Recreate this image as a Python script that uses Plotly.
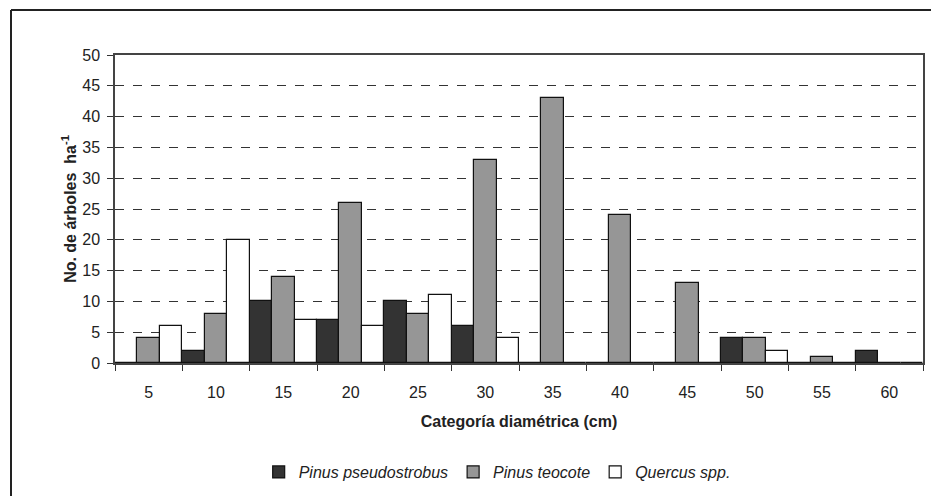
import plotly.graph_objects as go

categories = ["5", "10", "15", "20", "25", "30", "35", "40", "45", "50", "55", "60"]
pinus_pseudostrobus = [0, 2, 10, 7, 10, 6, 0, 0, 0, 4, 0, 2]
pinus_teocote = [4, 8, 14, 26, 8, 33, 43, 24, 13, 4, 1, 0]
quercus = [6, 20, 7, 6, 11, 4, 0, 0, 0, 2, 0, 0]
series_names = ["Pinus pseudostrobus", "Pinus teocote", "Quercus spp."]
y_ticks = list(range(0, 55, 5))

colors = ["#333333", "#969696", "#ffffff"]
fig = go.Figure()
for name, vals, col in zip(series_names, [pinus_pseudostrobus, pinus_teocote, quercus], colors):
    fig.add_trace(go.Bar(
        x=categories, y=vals, name="<i>" + name + "</i>",
        marker=dict(color=col, line=dict(color="#111111", width=1.2)),
    ))

# page body has an 8px offset; compensate
OFF = 8
W, H = 939 - OFF, 496 - OFF
L, R, T, B = 115 - OFF, 16, 55 - OFF, 133
pw, ph = W - L - R, H - T - B

fig.update_layout(
    width=W, height=H,
    margin=dict(l=L, r=R, t=T, b=B, autoexpand=False),
    paper_bgcolor="white", plot_bgcolor="white",
    barmode="group", bargap=0, bargroupgap=0,
    font=dict(family="Liberation Sans, Arial", size=16, color="#222222"),
    showlegend=True,
    legend=dict(orientation="h", x=0.473, xanchor="center", y=(T + ph - (472 - OFF)) / ph,
                yanchor="middle", font=dict(size=16), traceorder="normal"),
    xaxis=dict(
        type="category", tickson="boundaries", ticks="outside", ticklen=6,
        tickcolor="#333333", showline=True, linecolor="#444444", linewidth=1.5,
        mirror=True, showgrid=False, ticklabelstandoff=14, automargin=False,
        title=dict(text="<b>Categoría diamétrica (cm)</b>", font=dict(size=16), standoff=16),
    ),
    yaxis=dict(
        range=[0, 50], tickvals=y_ticks, ticks="outside", ticklen=6,
        tickcolor="#333333", showline=True, linecolor="#444444", linewidth=1.5,
        mirror=True, showgrid=True, gridcolor="#333333", griddash="dash", gridwidth=1,
        zeroline=False, ticklabelstandoff=4, automargin=False,
        title=dict(text="<b>No. de árboles  ha<sup>-1</sup></b>", font=dict(size=16), standoff=2),
    ),
)

x_left = (11 - OFF - L) / pw
y_top = (T + ph - (10 - OFF)) / ph
fig.add_shape(type="line", xref="paper", yref="paper", x0=x_left, x1=x_left,
              y0=y_top, y1=-(H - T - ph) / ph - 0.1, line=dict(color="#222222", width=2))
fig.add_shape(type="line", xref="paper", yref="paper", x0=x_left, x1=(W - L) / pw + 0.1,
              y0=y_top, y1=y_top, line=dict(color="#222222", width=2))

fig.write_html("out.html")
